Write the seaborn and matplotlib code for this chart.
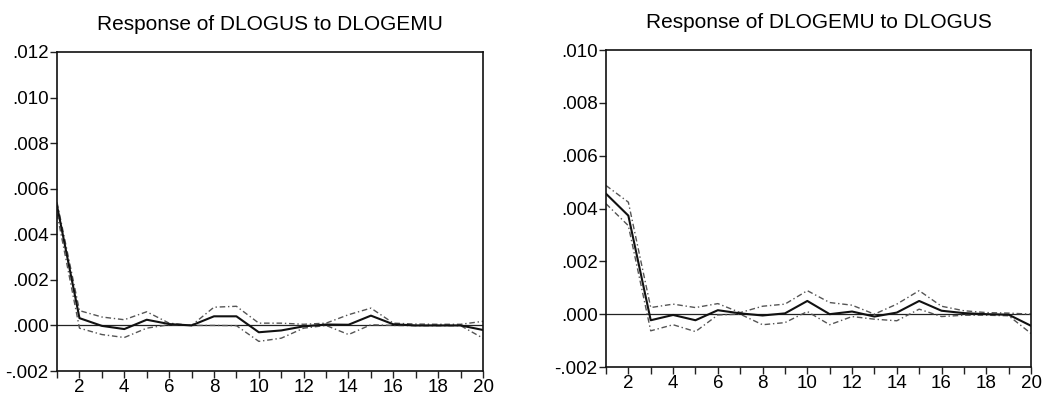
import numpy as np
import pandas as pd
import matplotlib
matplotlib.use("Agg")
import matplotlib.pyplot as plt
from matplotlib.ticker import FuncFormatter, MultipleLocator
import seaborn as sns

periods = list(range(1, 21))

# Response of DLOGUS to DLOGEMU
us_resp = [0.00525, 0.00032, -0.00002, -0.00016, 0.00025, 0.00006, 0.0, 0.0004, 0.0004, -0.0003,
           -0.00022, -0.00004, 0.00004, 0.00003, 0.00043, 0.00005, 0.0, 0.0, 0.0, -0.0002]
us_upper = [0.0054, 0.00065, 0.00037, 0.00025, 0.0006, 0.0001, 0.0, 0.0008, 0.00084, 0.0001,
            0.0001, 0.00005, 0.0001, 0.00047, 0.00076, 0.0001, 0.00006, 0.00005, 0.00005, 0.00018]
us_lower = [0.0049, -0.00012, -0.0004, -0.00053, -0.00012, 0.00003, 0.0, 0.0, -0.00001, -0.0007,
            -0.00056, -0.00012, 0.0, -0.0004, 0.00003, 0.0, -0.00001, -0.00001, -0.00001, -0.00056]

# Response of DLOGEMU to DLOGUS
emu_resp = [0.00456, 0.00373, -0.00023, -0.00003, -0.00023, 0.00015, 0.00003, -0.00005, 0.00003, 0.0005,
            0.0, 0.0001, -0.00009, 0.00006, 0.0005, 0.00013, 0.00004, 0.0, -0.00002, -0.00044]
emu_upper = [0.00487, 0.00424, 0.00025, 0.00038, 0.00025, 0.0004, 0.00006, 0.0003, 0.00038, 0.00089,
             0.00044, 0.00034, 0.0, 0.00038, 0.00089, 0.0003, 0.00013, 0.00006, 0.00004, 0.0]
emu_lower = [0.00418, 0.00335, -0.00063, -0.0004, -0.00066, -0.00003, 0.0, -0.0004, -0.00032, 0.0001,
             -0.0004, -0.00009, -0.00019, -0.00025, 0.00019, -0.00009, -0.00004, -0.00004, -0.00006, -0.00073]

titles = ["Response of DLOGUS to DLOGEMU", "Response of DLOGEMU to DLOGUS"]
ylims = [(-0.002, 0.012), (-0.002, 0.010)]

sns.set_style("ticks")
plt.rcParams['font.family'] = ['Liberation Sans', 'DejaVu Sans']
plt.rcParams['text.color'] = 'black'
plt.rcParams['xtick.color'] = 'black'
plt.rcParams['ytick.color'] = 'black'

fig = plt.figure(figsize=(10.43, 4.0), dpi=100)
ax1 = fig.add_axes([0.0547, 0.0725, 0.4084, 0.7975])
ax2 = fig.add_axes([0.581, 0.0825, 0.4075, 0.7925])

panels = [(ax1, us_resp, us_upper, us_lower), (ax2, emu_resp, emu_upper, emu_lower)]

fmt = FuncFormatter(lambda v, p: f"{v:.3f}".replace("0.", ".", 1))

for i, (ax, resp, up, lo) in enumerate(panels):
    df = pd.DataFrame({"period": periods, "resp": resp, "upper": up, "lower": lo})
    ax.axhline(0, color="#222222", lw=0.9, zorder=1)
    sns.lineplot(data=df, x="period", y="upper", ax=ax, color="#555555", lw=1.0,
                 linestyle=(0, (4, 2, 1, 2)))
    sns.lineplot(data=df, x="period", y="lower", ax=ax, color="#555555", lw=1.0,
                 linestyle=(0, (4, 2, 1, 2)))
    sns.lineplot(data=df, x="period", y="resp", ax=ax, color="#111111", lw=1.5)
    ax.set_xlim(1, 20)
    ax.set_ylim(*ylims[i])
    ax.set_xlabel("")
    ax.set_ylabel("")
    ax.xaxis.set_major_locator(MultipleLocator(2))
    ax.xaxis.set_minor_locator(MultipleLocator(1))
    ax.yaxis.set_major_locator(MultipleLocator(0.002))
    ax.yaxis.set_major_formatter(fmt)
    ax.tick_params(axis="both", which="both", direction="out", length=5, width=1.0,
                   labelsize=13.5, color="#222222", labelcolor="black")
    ax.tick_params(axis="x", which="major", pad=1)
    ax.tick_params(axis="y", which="major", pad=1)
    for s in ax.spines.values():
        s.set_visible(True)
        s.set_linewidth(1.2)
        s.set_color("#111111")
    ax.set_title(titles[i], fontsize=15, pad=16, color="black")

fig.savefig("out.png", dpi=100)
